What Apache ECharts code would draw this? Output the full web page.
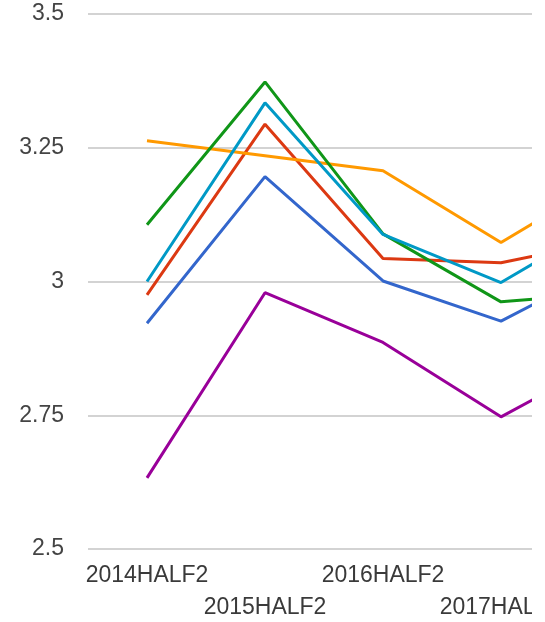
<!DOCTYPE html>
<html>
<head>
<meta charset="utf-8">
<script src="https://cdn.jsdelivr.net/npm/echarts@6/dist/echarts.min.js"></script>
<style>
  html, body { margin: 0; padding: 0; background: #fff; }
  #wrap { width: 532px; height: 622px; overflow: hidden; }
  #main { width: 545px; height: 622px; }
</style>
</head>
<body>
<div id="wrap"><div id="main"></div></div>
<script>
// categories along the x axis
var categories = ['2014HALF2', '2015HALF2', '2016HALF2', '2017HALF2', '2018HALF2'];

// series values
var blueVals   = [2.922, 3.196, 3.001, 2.926, 3.04];
var redVals    = [2.975, 3.294, 3.043, 3.035, 3.08];
var orangeVals = [3.263, 3.235, 3.207, 3.073, 3.204];
var greenVals  = [3.106, 3.373, 3.089, 2.962, 2.98];
var purpleVals = [2.633, 2.979, 2.886, 2.747, 2.866];
var cyanVals   = [3.0, 3.334, 3.088, 2.998, 3.127];

var colors = ['#3366cc', '#dc3912', '#ff9900', '#109618', '#990099', '#0099c6'];
var allVals = [blueVals, redVals, orangeVals, greenVals, purpleVals, cyanVals];

var font = "'Liberation Sans', Arial, sans-serif";

var chart = echarts.init(document.getElementById('main'));

chart.setOption({
    animation: false,
    backgroundColor: '#fff',
    grid: {
        left: 88,
        top: 14,
        bottom: 73,
        width: 590,
        containLabel: false,
        outerBoundsMode: 'none'
    },
    xAxis: {
        type: 'category',
        data: categories,
        boundaryGap: true,
        axisLine: { show: false },
        axisTick: { show: false },
        axisLabel: {
            interval: 0,
            margin: 11,
            color: '#3a3a3a',
            fontSize: 23,
            fontFamily: font,
            lineHeight: 32,
            formatter: function (value, index) {
                // every other label on a second row
                return index % 2 ? '\n' + value : value;
            }
        }
    },
    yAxis: {
        type: 'value',
        min: 2.5,
        max: 3.5,
        interval: 0.25,
        axisLine: { show: false },
        axisTick: { show: false },
        axisLabel: {
            margin: 24,
            color: '#444',
            fontSize: 23,
            fontFamily: font
        },
        splitLine: { lineStyle: { color: '#c4c4c4', width: 1.5 } }
    },
    series: allVals.map(function (vals, i) {
        return {
            type: 'line',
            data: vals,
            showSymbol: false,
            symbol: 'none',
            lineStyle: { color: colors[i], width: 3 },
            itemStyle: { color: colors[i] }
        };
    })
});
</script>
</body>
</html>
